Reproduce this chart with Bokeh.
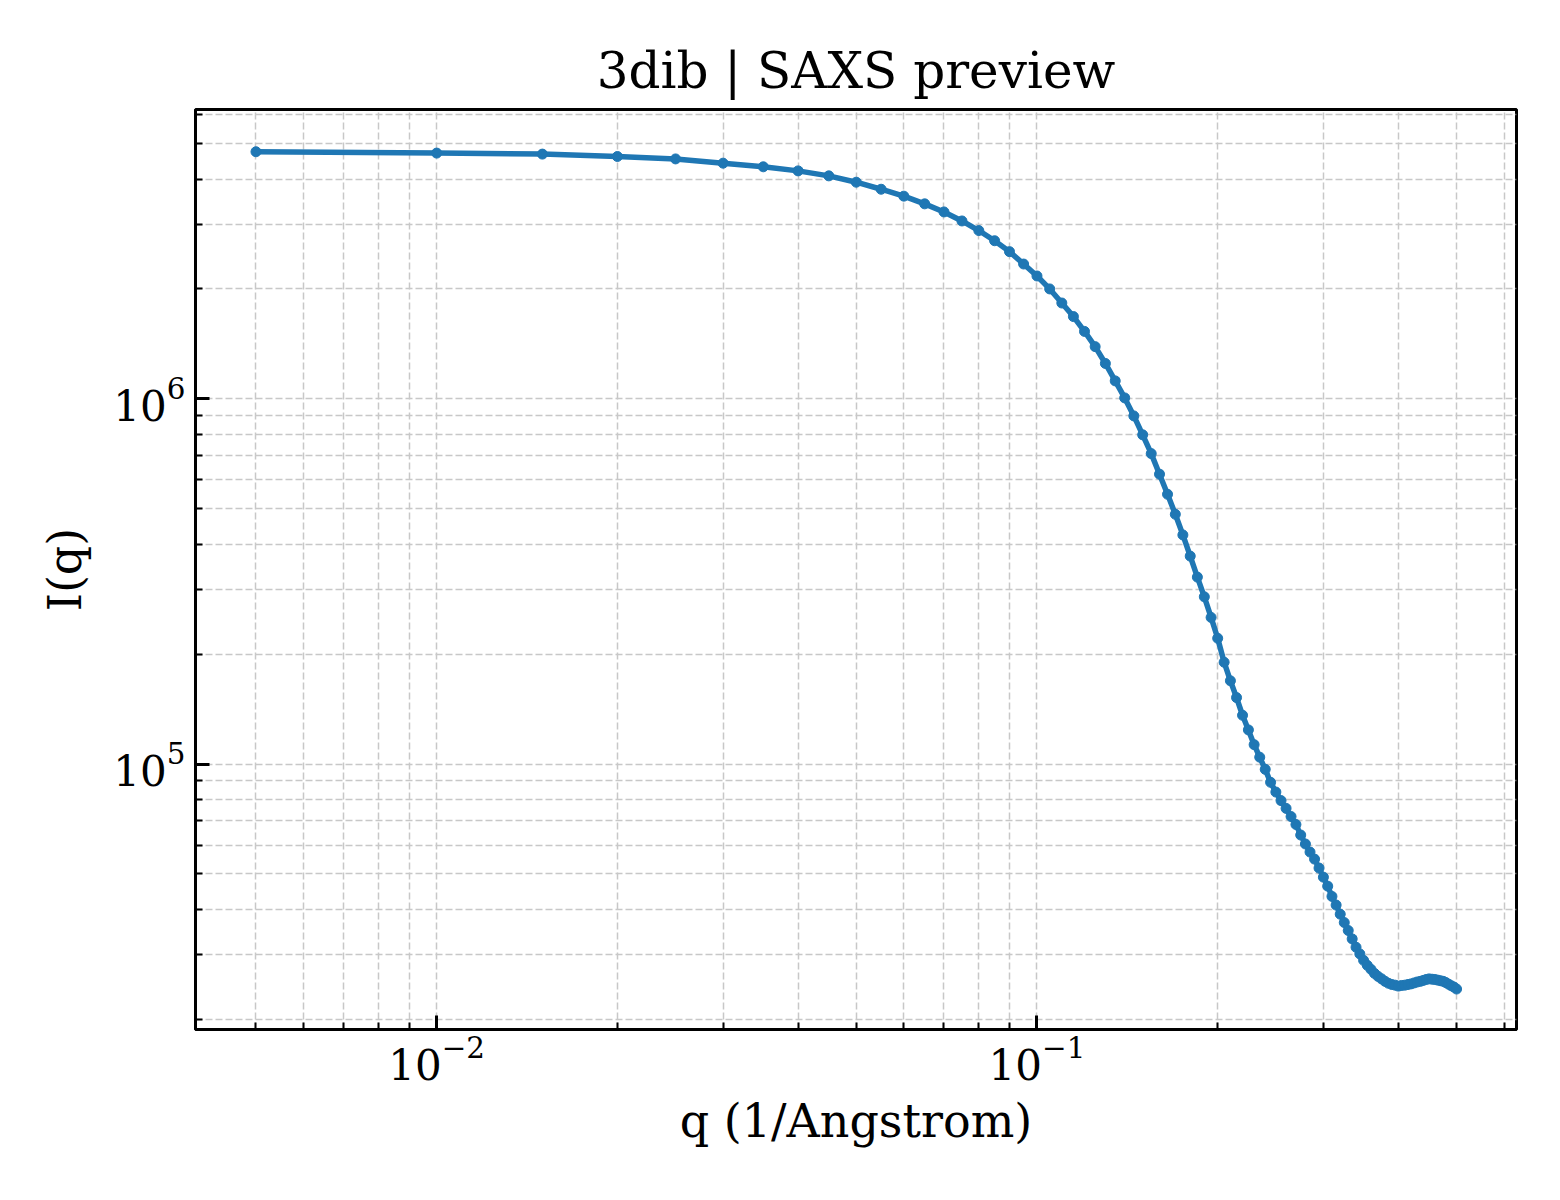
from bokeh.plotting import figure
from bokeh.models import Range1d, FixedTicker, LogTickFormatter
from bokeh.embed import file_html
from bokeh.resources import INLINE

# scattering vector (1/Angstrom)
q = [0.005, 0.010, 0.015, 0.020, 0.025, 0.030, 0.035, 0.040, 0.045, 0.050,
     0.055, 0.060, 0.065, 0.070, 0.075, 0.080, 0.085, 0.090, 0.095, 0.100,
     0.105, 0.110, 0.115, 0.120, 0.125, 0.130, 0.135, 0.140, 0.145, 0.150,
     0.155, 0.160, 0.165, 0.170, 0.175, 0.180, 0.185, 0.190, 0.195, 0.200,
     0.205, 0.210, 0.215, 0.220, 0.225, 0.230, 0.235, 0.240, 0.245, 0.250,
     0.255, 0.260, 0.265, 0.270, 0.275, 0.280, 0.285, 0.290, 0.295, 0.300,
     0.305, 0.310, 0.315, 0.320, 0.325, 0.330, 0.335, 0.340, 0.345, 0.350,
     0.355, 0.360, 0.365, 0.370, 0.375, 0.380, 0.385, 0.390, 0.395, 0.400,
     0.405, 0.410, 0.415, 0.420, 0.425, 0.430, 0.435, 0.440, 0.445, 0.450,
     0.455, 0.460, 0.465, 0.470, 0.475, 0.480, 0.485, 0.490, 0.495, 0.500]

# intensity I(q)
intensity = [4.75e6, 4.71e6, 4.68e6, 4.61e6, 4.54e6, 4.42e6, 4.32e6, 4.21e6, 4.08e6, 3.92e6,
             3.75e6, 3.59e6, 3.42e6, 3.25e6, 3.07e6, 2.89e6, 2.71e6, 2.53e6, 2.34e6, 2.17e6,
             2.00e6, 1.83e6, 1.68e6, 1.53e6, 1.39e6, 1.25e6, 1.12e6, 1.006e6, 8.98e5, 7.97e5,
             7.08e5, 6.22e5, 5.48e5, 4.83e5, 4.24e5, 3.71e5, 3.25e5, 2.87e5, 2.52e5, 2.21e5,
             1.90e5, 1.69e5, 1.52e5, 1.36e5, 1.24e5, 1.13e5, 1.044e5, 9.67e4, 8.91e4, 8.38e4,
             7.94e4, 7.56e4, 7.18e4, 6.83e4, 6.39e4, 6.04e4, 5.74e4, 5.49e4, 5.19e4, 4.90e4,
             4.63e4, 4.34e4, 4.11e4, 3.88e4, 3.68e4, 3.50e4, 3.32e4, 3.15e4, 3.02e4, 2.90e4,
             2.81e4, 2.74e4, 2.67e4, 2.62e4, 2.58e4, 2.54e4, 2.51e4, 2.49e4, 2.48e4, 2.465e4,
             2.475e4, 2.48e4, 2.49e4, 2.50e4, 2.515e4, 2.53e4, 2.54e4, 2.555e4, 2.57e4, 2.58e4,
             2.575e4, 2.57e4, 2.56e4, 2.55e4, 2.54e4, 2.52e4, 2.495e4, 2.47e4, 2.45e4, 2.42e4]

x_major = [1e-2, 1e-1]
x_minor = [0.005, 0.006, 0.007, 0.008, 0.009, 0.02, 0.03, 0.04, 0.05, 0.06, 0.07, 0.08, 0.09,
           0.2, 0.3, 0.4, 0.5, 0.6]
y_major = [1e5, 1e6]
y_minor = [2e4, 3e4, 4e4, 5e4, 6e4, 7e4, 8e4, 9e4,
           2e5, 3e5, 4e5, 5e5, 6e5, 7e5, 8e5, 9e5,
           2e6, 3e6, 4e6, 5e6, 6e6]

FONT = "DejaVu Serif"
BLUE = "#1f77b4"

p = figure(x_axis_type="log", y_axis_type="log",
           x_range=Range1d(0.003965, 0.6292), y_range=Range1d(1.875e4, 6.2e6),
           frame_width=1321, frame_height=920,
           min_border_left=195, min_border_top=109, min_border_right=30, min_border_bottom=150,
           title="3dib | SAXS preview",
           output_backend="svg", toolbar_location=None)

# title
p.title.text_font = FONT
p.title.text_font_size = "50px"
p.title.text_font_style = "normal"
p.title.text_color = "black"
p.title.align = "center"
p.title.standoff = 19

# ticks
p.xaxis.ticker = FixedTicker(ticks=x_major, minor_ticks=x_minor)
p.yaxis.ticker = FixedTicker(ticks=y_major, minor_ticks=y_minor)
p.xaxis.formatter = LogTickFormatter()
p.yaxis.formatter = LogTickFormatter()

p.xaxis.axis_label = "q (1/Angstrom)"
p.yaxis.axis_label = "I(q)"
for ax in (p.xaxis, p.yaxis):
    ax.axis_label_text_font = FONT
    ax.axis_label_text_font_size = "46px"
    ax.axis_label_text_font_style = "normal"
    ax.axis_label_text_color = "black"
    ax.major_label_text_font = FONT
    ax.major_label_text_font_size = "42px"
    ax.major_label_text_color = "black"
    ax.axis_line_color = "black"
    ax.axis_line_width = 3
    ax.major_tick_in = 14
    ax.major_tick_out = 0
    ax.minor_tick_in = 7
    ax.minor_tick_out = 0
    ax.major_tick_line_width = 3
    ax.minor_tick_line_width = 2
    ax.major_tick_line_color = "black"
    ax.minor_tick_line_color = "black"
p.xaxis.major_label_standoff = 6
p.yaxis.major_label_standoff = 10
p.xaxis.axis_label_standoff = 11
p.yaxis.axis_label_standoff = 18

# frame
p.outline_line_color = "black"
p.outline_line_width = 3
p.background_fill_color = "white"
p.border_fill_color = "white"

# grid, major and minor both dashed
for g in (p.xgrid, p.ygrid):
    g.grid_line_color = "#c8c8c8"
    g.grid_line_width = 1.5
    g.grid_line_dash = "7 3"
    g.minor_grid_line_color = "#c8c8c8"
    g.minor_grid_line_width = 1.5
    g.minor_grid_line_dash = "7 3"

p.line(q, intensity, line_color=BLUE, line_width=5.5)
p.scatter(q, intensity, size=10, color=BLUE)

open("out.html", "w").write(file_html(p, INLINE))
